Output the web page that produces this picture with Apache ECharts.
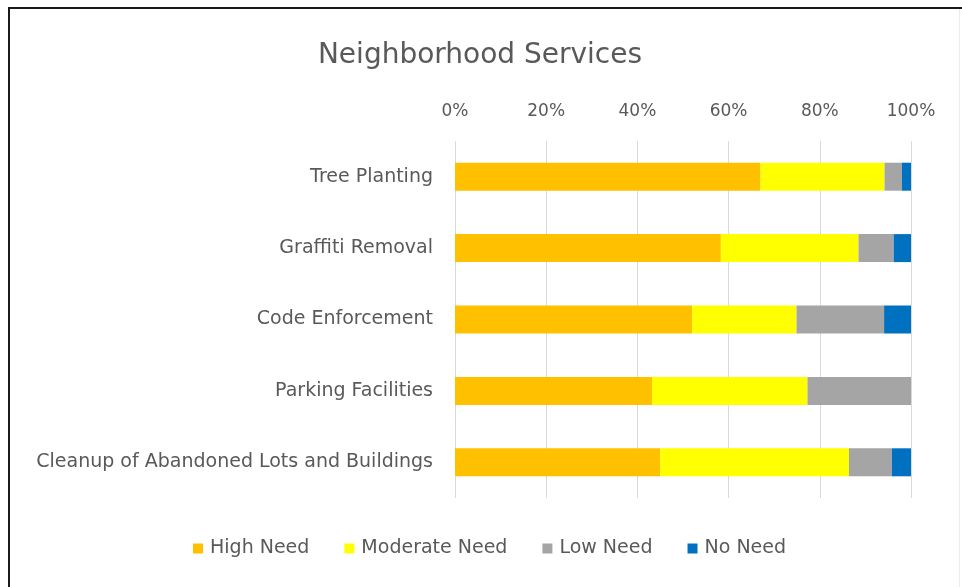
<!DOCTYPE html>
<html>
<head>
<meta charset="utf-8">
<script src="https://cdn.jsdelivr.net/npm/echarts@6/dist/echarts.min.js"></script>
<style>
html,body{margin:0;padding:0;background:#fff;}
#c{width:962px;height:587px;}
</style>
</head>
<body>
<div id="c"></div>
<script>
var categories = ['Tree Planting', 'Graffiti Removal', 'Code Enforcement', 'Parking Facilities', 'Cleanup of Abandoned Lots and Buildings'];
var highNeed = [67.0, 58.3, 52.0, 43.2, 45.0];
var moderateNeed = [27.2, 30.2, 22.9, 34.1, 41.4];
var lowNeed = [3.8, 7.7, 19.2, 22.7, 9.4];
var noNeed = [2.0, 3.8, 5.9, 0.0, 4.2];
var tickLabels = ['0%', '20%', '40%', '60%', '80%', '100%'];

var font = 'DejaVu Sans';
var textColor = '#595959';
var chart = echarts.init(document.getElementById('c'));
function mk(name, data, color) {
  return { name: name, type: 'bar', stack: 'total', data: data, barWidth: 28,
    itemStyle: { color: color }, emphasis: { disabled: true } };
}
chart.setOption({
  animation: false,
  backgroundColor: '#fff',
  title: { text: 'Neighborhood Services', left: 475, top: 37, textAlign: 'center',
    textStyle: { fontFamily: font, fontSize: 28, fontWeight: 'normal', color: textColor } },
  legend: { bottom: 24, left: 188, itemWidth: 10, itemHeight: 10, itemGap: 35,
    icon: 'rect', textStyle: { fontFamily: font, fontSize: 19, color: textColor, padding: [0, 0, 0, 2] },
    data: ['High Need', 'Moderate Need', 'Low Need', 'No Need'] },
  grid: { left: 455, right: 51, top: 141, bottom: 89 },
  xAxis: { type: 'value', position: 'top', min: 0, max: 100, interval: 20,
    axisLine: { show: false }, axisTick: { show: false },
    splitLine: { lineStyle: { color: '#d9d9d9', width: 1 } },
    axisLabel: { margin: 21, fontFamily: font, fontSize: 17, color: textColor,
      formatter: function (v) { return tickLabels[Math.round(v / 20)]; } } },
  yAxis: { type: 'category', data: categories, inverse: true,
    axisLine: { show: false }, axisTick: { show: false },
    axisLabel: { margin: 22, fontFamily: font, fontSize: 19, color: textColor } },
  series: [
    mk('High Need', highNeed, '#FFC000'),
    mk('Moderate Need', moderateNeed, '#FFFF00'),
    mk('Low Need', lowNeed, '#A5A5A5'),
    mk('No Need', noNeed, '#0070C0')
  ],
  graphic: [
    { type: 'line', shape: { x1: 9, y1: 8, x2: 9, y2: 587 }, style: { stroke: '#1a1a1a', lineWidth: 2 } },
    { type: 'line', shape: { x1: 8, y1: 8, x2: 962, y2: 8 }, style: { stroke: '#1a1a1a', lineWidth: 2 } },
    { type: 'line', shape: { x1: 959.5, y1: 9, x2: 959.5, y2: 587 }, style: { stroke: '#ececec', lineWidth: 1 } }
  ]
});
</script>
</body>
</html>
